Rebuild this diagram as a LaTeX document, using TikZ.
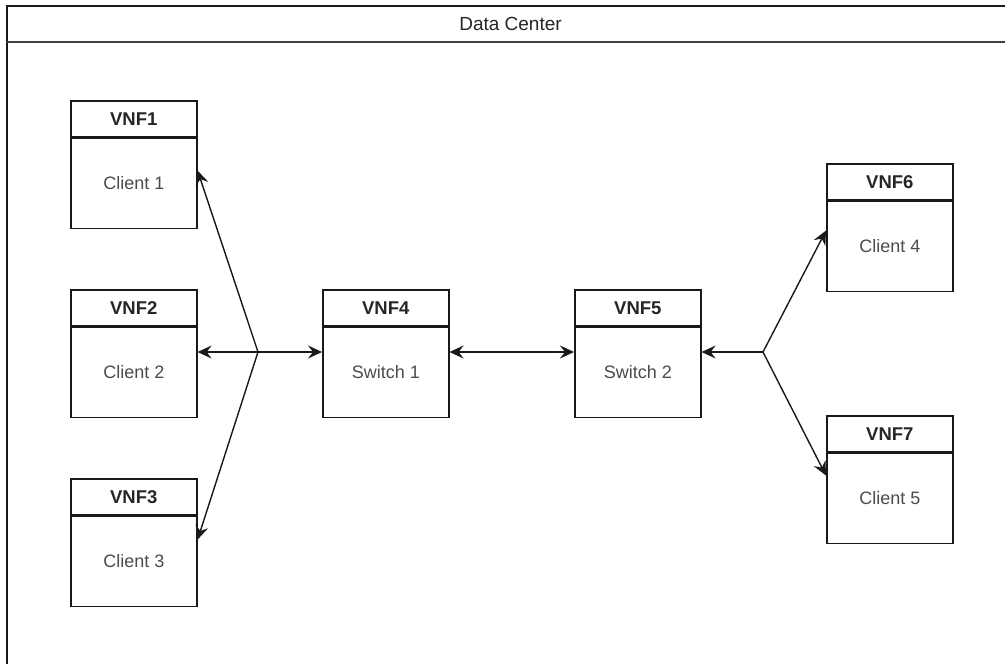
\documentclass[tikz,border=0pt]{standalone}
\usepackage{fontspec}
\setmainfont{Liberation Sans}
\usetikzlibrary{arrows.meta,calc}

\tikzset{
  frameline/.style={line width=1.5pt, draw=black!90},
  headbox/.style={draw=black!90, line width=1.6pt, minimum width=126pt, minimum height=36pt,
    inner sep=0pt, anchor=north west, font=\fontsize{18.5}{20}\selectfont\bfseries, text=black!85},
  bodybox/.style={draw=black!90, line width=1.6pt, minimum width=126pt, minimum height=90pt,
    inner sep=0pt, anchor=north, font=\fontsize{18}{20}\selectfont, text=black!70},
  link/.style={line width=1.4pt, draw=black!90},
  tip/.style={-{Stealth[length=14pt,width=13pt,inset=5pt]}},
  bitip/.style={{Stealth[length=14pt,width=13pt,inset=5pt]}-{Stealth[length=14pt,width=13pt,inset=5pt]}}
}

% one VNF block: header node #1 with text #3, body node #2 with text #4, top-left corner at #5
\newcommand{\vnfblock}[5]{%
  \node[headbox] (#1) at #5 {#3};
  \node[bodybox] (#2) at (#1.south) {#4};
}

\begin{document}
\begin{tikzpicture}[x=1pt,y=-1pt]
  \useasboundingbox (0,0) rectangle (1005,664);
  \fill[white] (0,0) rectangle (1005,664);
  \clip (0,0) rectangle (1005,664);

  % data center container (extends past the right and bottom edges)
  \draw[frameline] (7,720) -- (7,6) -- (1030,6);
  \draw[line width=2pt, draw=black!75] (7,41.5) -- (1030,41.5);
  \node[font=\fontsize{19}{21}\selectfont, text=black!85] (title) at (510.5,24) {Data Center};

  % VNF blocks
  \vnfblock{vnf1}{client1}{VNF1}{Client 1}{(70,100)}
  \vnfblock{vnf2}{client2}{VNF2}{Client 2}{(70,289)}
  \vnfblock{vnf3}{client3}{VNF3}{Client 3}{(70,478)}
  \vnfblock{vnf4}{switch1}{VNF4}{Switch 1}{(322,289)}
  \vnfblock{vnf5}{switch2}{VNF5}{Switch 2}{(574,289)}
  \vnfblock{vnf6}{client4}{VNF6}{Client 4}{(826,163)}
  \vnfblock{vnf7}{client5}{VNF7}{Client 5}{(826,415)}

  % branch points of the two fan-outs
  \coordinate (jl) at (258,352);
  \coordinate (jr) at (763,352);

  % connectors
  \draw[link,bitip] (jl -| client2.east) -- (jl -| switch1.west);
  \draw[link,tip] (jl) -- ($(client1.north east)+(0,33)$);
  \draw[link,tip] (jl) -- ($(client3.north east)+(0,24)$);
  \draw[link,bitip] (jl -| switch1.east) -- (jl -| switch2.west);
  \draw[link,tip] (jr) -- (jr -| switch2.east);
  \draw[link,tip] (jr) -- ($(client4.north west)+(0,30)$);
  \draw[link,tip] (jr) -- ($(client5.north west)+(0,23)$);
\end{tikzpicture}
\end{document}
